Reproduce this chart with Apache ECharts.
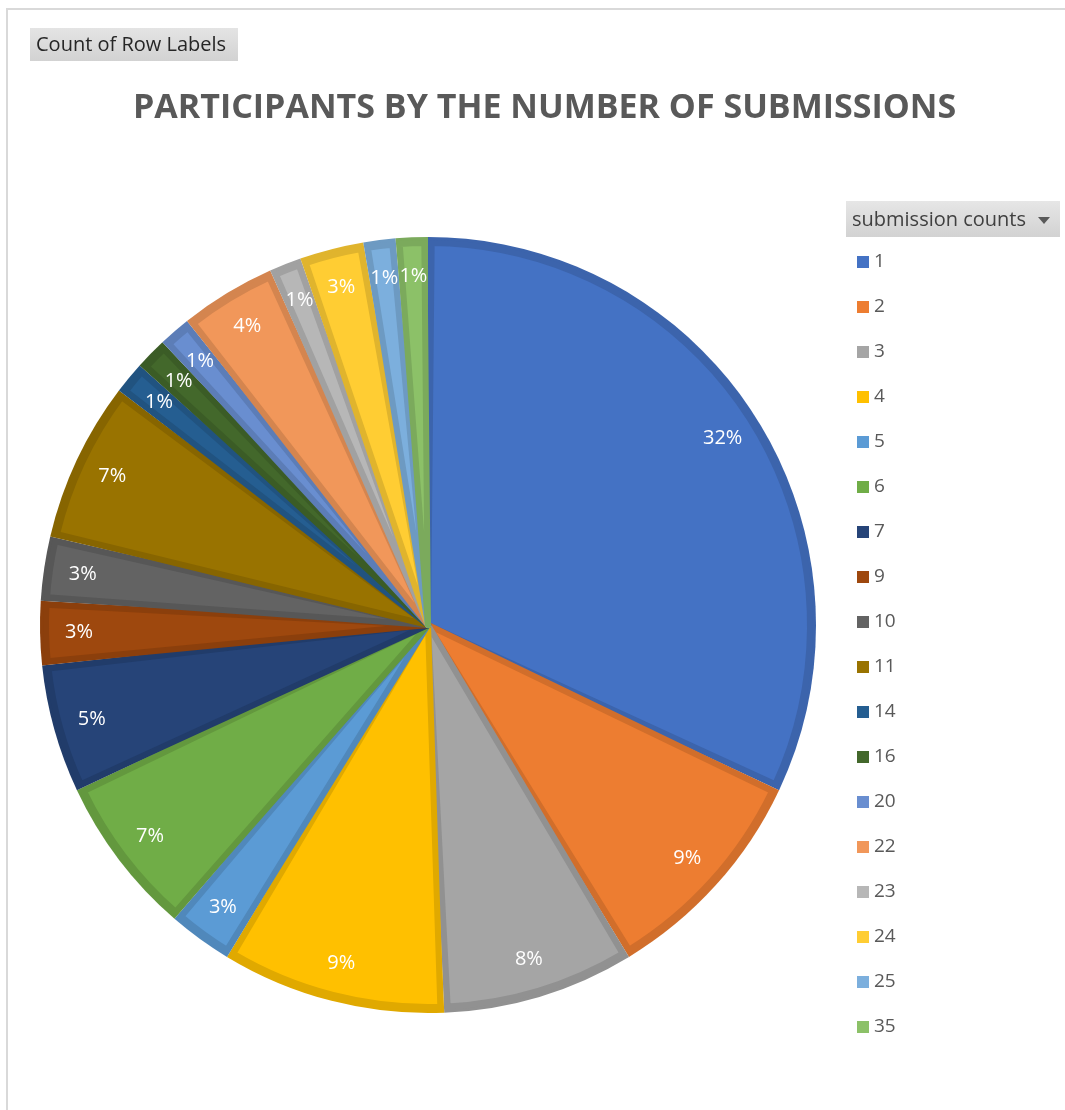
<!DOCTYPE html>
<html>
<head>
<meta charset="utf-8">
<title>Participants by the number of submissions</title>
<script src="https://cdn.jsdelivr.net/npm/echarts@6/dist/echarts.min.js"></script>
<style>
  html, body { margin: 0; padding: 0; background: #ffffff; }
  #chart { width: 1065px; height: 1110px; }
</style>
</head>
<body>
<div id="chart"></div>
<script>
// Submission-count buckets and how many participants fall in each
const categories = ['1', '2', '3', '4', '5', '6', '7', '9', '10', '11', '14', '16', '20', '22', '23', '24', '25', '35'];
const participants = [24, 7, 6, 7, 2, 5, 4, 2, 2, 5, 1, 1, 1, 3, 1, 2, 1, 1];

// Office palette: accents, their darker shades, then lighter tints
const sliceColors = [
  '#4472C4', '#ED7D31', '#A5A5A5', '#FFC000', '#5B9BD5', '#70AD47',
  '#264478', '#9E480E', '#636363', '#997300', '#255E91', '#43682B',
  '#698ED0', '#F1975A', '#B7B7B7', '#FFCD33', '#7CAFDD', '#8CC168'
];

const chartTitle = 'PARTICIPANTS BY THE NUMBER OF SUBMISSIONS';
const fieldButton = 'Count of Row Labels';
const legendHeader = 'submission counts';

function shade(hex, f) {
  const n = parseInt(hex.slice(1), 16);
  const r = Math.round(((n >> 16) & 255) * f);
  const g = Math.round(((n >> 8) & 255) * f);
  const b = Math.round((n & 255) * f);
  return 'rgb(' + r + ',' + g + ',' + b + ')';
}

const total = participants.reduce((a, b) => a + b, 0);
const CENTER = [428, 625];
const R = 388;
const EDGE = 0.88;

// inner fill, outlined in its own darker shade
const fillData = categories.map((c, i) => ({
  name: c,
  value: participants[i],
  itemStyle: { color: sliceColors[i], borderColor: shade(sliceColors[i], EDGE) }
}));
// full-size darker slice underneath, showing as the rim
const rimData = categories.map((c, i) => ({
  name: c, value: participants[i], itemStyle: { color: shade(sliceColors[i], EDGE) }
}));
const labelData = categories.map((c, i) => ({ name: c, value: participants[i] }));

const chart = echarts.init(document.getElementById('chart'), null, { renderer: 'canvas' });

chart.setOption({
  animation: false,
  backgroundColor: '#ffffff',
  title: {
    text: chartTitle,
    left: 133,
    top: 91,
    padding: 0,
    textStyle: {
      fontFamily: 'Open Sans',
      fontWeight: 'bold',
      fontSize: 34,
      color: '#595959'
    }
  },
  legend: {
    orient: 'vertical',
    left: 857,
    top: 252,
    padding: 0,
    icon: 'rect',
    itemWidth: 12,
    itemHeight: 12,
    itemGap: 25,
    selectedMode: false,
    data: categories,
    itemStyle: { borderWidth: 0 },
    textStyle: {
      fontFamily: 'Open Sans',
      fontSize: 19,
      lineHeight: 20,
      color: '#595959'
    }
  },
  graphic: [
    {
      type: 'rect',
      silent: true,
      shape: { x: 7, y: 9, width: 1080, height: 1120 },
      style: { fill: 'none', stroke: '#d9d9d9', lineWidth: 2 }
    },
    {
      type: 'rect',
      silent: true,
      shape: { x: 30, y: 28, width: 208, height: 33 },
      style: {
        fill: new echarts.graphic.LinearGradient(0, 0, 0, 1, [
          { offset: 0, color: '#e4e4e4' }, { offset: 1, color: '#d2d2d2' }
        ])
      }
    },
    {
      type: 'text',
      silent: true,
      x: 36, y: 45,
      style: {
        text: fieldButton,
        fontFamily: 'Open Sans',
        fontSize: 20,
        fill: '#262626',
        verticalAlign: 'middle'
      }
    },
    {
      type: 'rect',
      silent: true,
      shape: { x: 846, y: 201, width: 214, height: 36 },
      style: {
        fill: new echarts.graphic.LinearGradient(0, 0, 0, 1, [
          { offset: 0, color: '#e6e6e6' }, { offset: 1, color: '#d2d2d2' }
        ])
      }
    },
    {
      type: 'text',
      silent: true,
      x: 852, y: 220,
      style: {
        text: legendHeader,
        fontFamily: 'Open Sans',
        fontSize: 20,
        fill: '#404040',
        verticalAlign: 'middle'
      }
    },
    {
      type: 'polygon',
      silent: true,
      shape: { points: [[1038, 217], [1050, 217], [1044, 224]] },
      style: { fill: '#595959' }
    }
  ],
  series: [
    {
      // main fill of each slice (drives legend colours)
      name: 'fill',
      type: 'pie',
      center: CENTER,
      radius: [0, R - 6],
      startAngle: 90,
      clockwise: true,
      padAngle: 1.1,
      z: 3,
      silent: true,
      emphasis: { disabled: true },
      itemStyle: { borderWidth: 6, borderJoin: 'round' },
      label: { show: false },
      labelLine: { show: false },
      data: fillData
    },
    {
      // darker rim behind each slice
      name: 'rim',
      type: 'pie',
      center: CENTER,
      radius: [0, R],
      startAngle: 90,
      clockwise: true,
      z: 2,
      silent: true,
      emphasis: { disabled: true },
      label: { show: false },
      labelLine: { show: false },
      data: rimData
    },
    {
      // percentage labels set near the outer edge
      name: 'labels',
      type: 'pie',
      center: CENTER,
      radius: [R - 84, R],
      startAngle: 90,
      clockwise: true,
      z: 4,
      silent: true,
      emphasis: { disabled: true },
      itemStyle: { color: 'rgba(0,0,0,0)' },
      labelLine: { show: false },
      label: {
        show: true,
        position: 'inside',
        fontFamily: 'Open Sans',
        fontSize: 20,
        color: '#ffffff',
        formatter: p => Math.round(p.value / total * 100) + '%'
      },
      data: labelData
    }
  ]
});
</script>
</body>
</html>
